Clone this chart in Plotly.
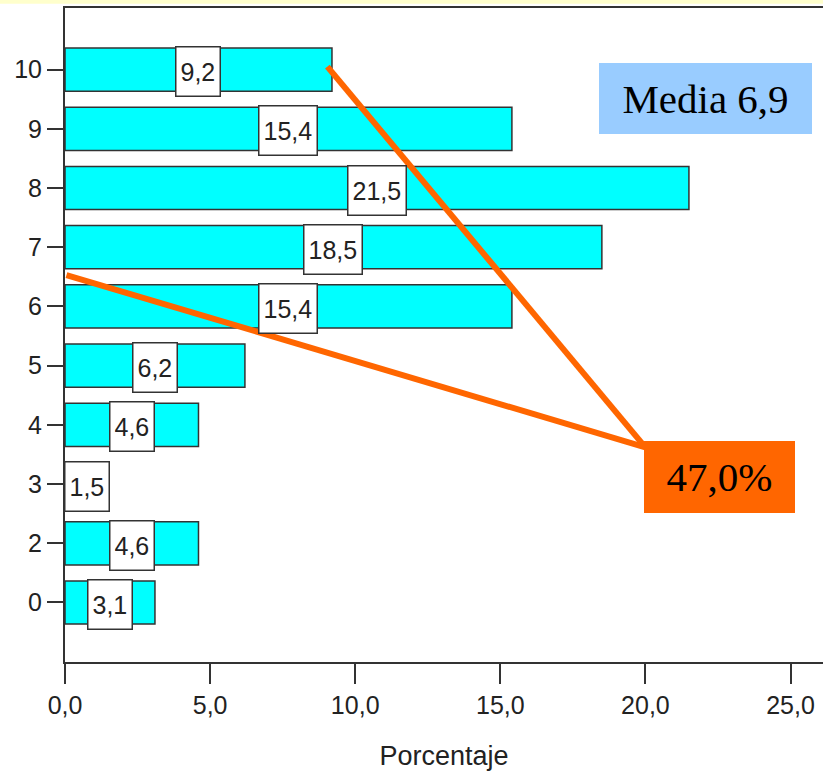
import plotly.graph_objects as go

categories = ["0", "2", "3", "4", "5", "6", "7", "8", "9", "10"]
percent = [3.1, 4.6, 1.5, 4.6, 6.2, 15.4, 18.5, 21.5, 15.4, 9.2]
labels = ["3,1", "4,6", "1,5", "4,6", "6,2", "15,4", "18,5", "21,5", "15,4", "9,2"]
x_ticks = [0, 5, 10, 15, 20, 25]
x_ticktext = ["0,0", "5,0", "10,0", "15,0", "20,0", "25,0"]
mean_text = "Media 6,9"
sum_text = "47,0%"
# callout lines (data coords: x value, y category index)
line_a = [(9.04, 9.05), (20.0, 2.62)]
line_b = [(0.05, 5.53), (20.0, 2.62)]

SANS = "Liberation Sans, Arial, sans-serif"
TIMES = "Liberation Serif, Times New Roman, serif"

fig = go.Figure()
fig.add_trace(go.Bar(
    x=percent, y=categories, orientation="h",
    marker=dict(color="#00FFFF", line=dict(color="#333333", width=1.5)),
    width=0.73, hoverinfo="skip",
))

for i, (v, t) in enumerate(zip(percent, labels)):
    fig.add_annotation(
        x=v / 2, y=i, xref="x", yref="y", text=t, showarrow=False,
        font=dict(family=SANS, size=25, color="#222222"),
        bgcolor="white", bordercolor="#333333", borderwidth=1.5,
        borderpad=4, height=40, yshift=-2,
    )

for (x0, y0), (x1, y1) in (line_a, line_b):
    fig.add_shape(type="line", xref="x", yref="y", x0=x0, y0=y0, x1=x1, y1=y1,
                  line=dict(color="#FF6600", width=6), layer="above")

fig.add_annotation(
    x=0.8456, y=0.8616, xref="paper", yref="paper", text=mean_text,
    xanchor="center", yanchor="middle",
    showarrow=False, font=dict(family=TIMES, size=41, color="black"),
    bgcolor="#99CCFF", width=213, height=71, borderpad=0, borderwidth=0,
)
fig.add_annotation(
    x=0.8635, y=0.2829, xref="paper", yref="paper", text=sum_text,
    xanchor="center", yanchor="middle",
    showarrow=False, font=dict(family=TIMES, size=41, color="black"),
    bgcolor="#FF6600", width=151, height=72, borderpad=0, borderwidth=0,
)

# light yellow strip at the top of the slide
fig.add_shape(type="rect", xref="paper", yref="paper", x0=-0.2, x1=1.1,
              y0=1.0064, y1=1.02, fillcolor="#FFFFCC", line=dict(width=0), layer="below")

fig.update_layout(
    width=823, height=773,
    margin=dict(l=65, r=0, t=8, b=111, autoexpand=False),
    paper_bgcolor="white", plot_bgcolor="white",
    showlegend=False,
    xaxis=dict(
        range=[0, 26.12], tickvals=x_ticks, ticktext=x_ticktext,
        ticks="outside", ticklen=20, tickwidth=1.5, tickcolor="#333333",
        showline=True, linecolor="#333333", linewidth=2, mirror=True,
        showgrid=False, zeroline=False, automargin=False,
        tickfont=dict(family=SANS, size=25, color="#222222"),
        title=dict(text="Porcentaje", font=dict(family=SANS, size=27, color="#222222"), standoff=28),
    ),
    yaxis=dict(
        type="category", categoryorder="array", categoryarray=categories,
        range=[-1.005, 10.04], automargin=False,
        ticks="outside", ticklen=16, tickwidth=1.5, tickcolor="#333333",
        showline=True, linecolor="#333333", linewidth=2,
        showgrid=False, zeroline=False,
        tickfont=dict(family=SANS, size=25, color="#222222"),
    ),
)

fig.write_html("out.html", config={"displayModeBar": False},
               post_script="document.body.style.margin='0';")
